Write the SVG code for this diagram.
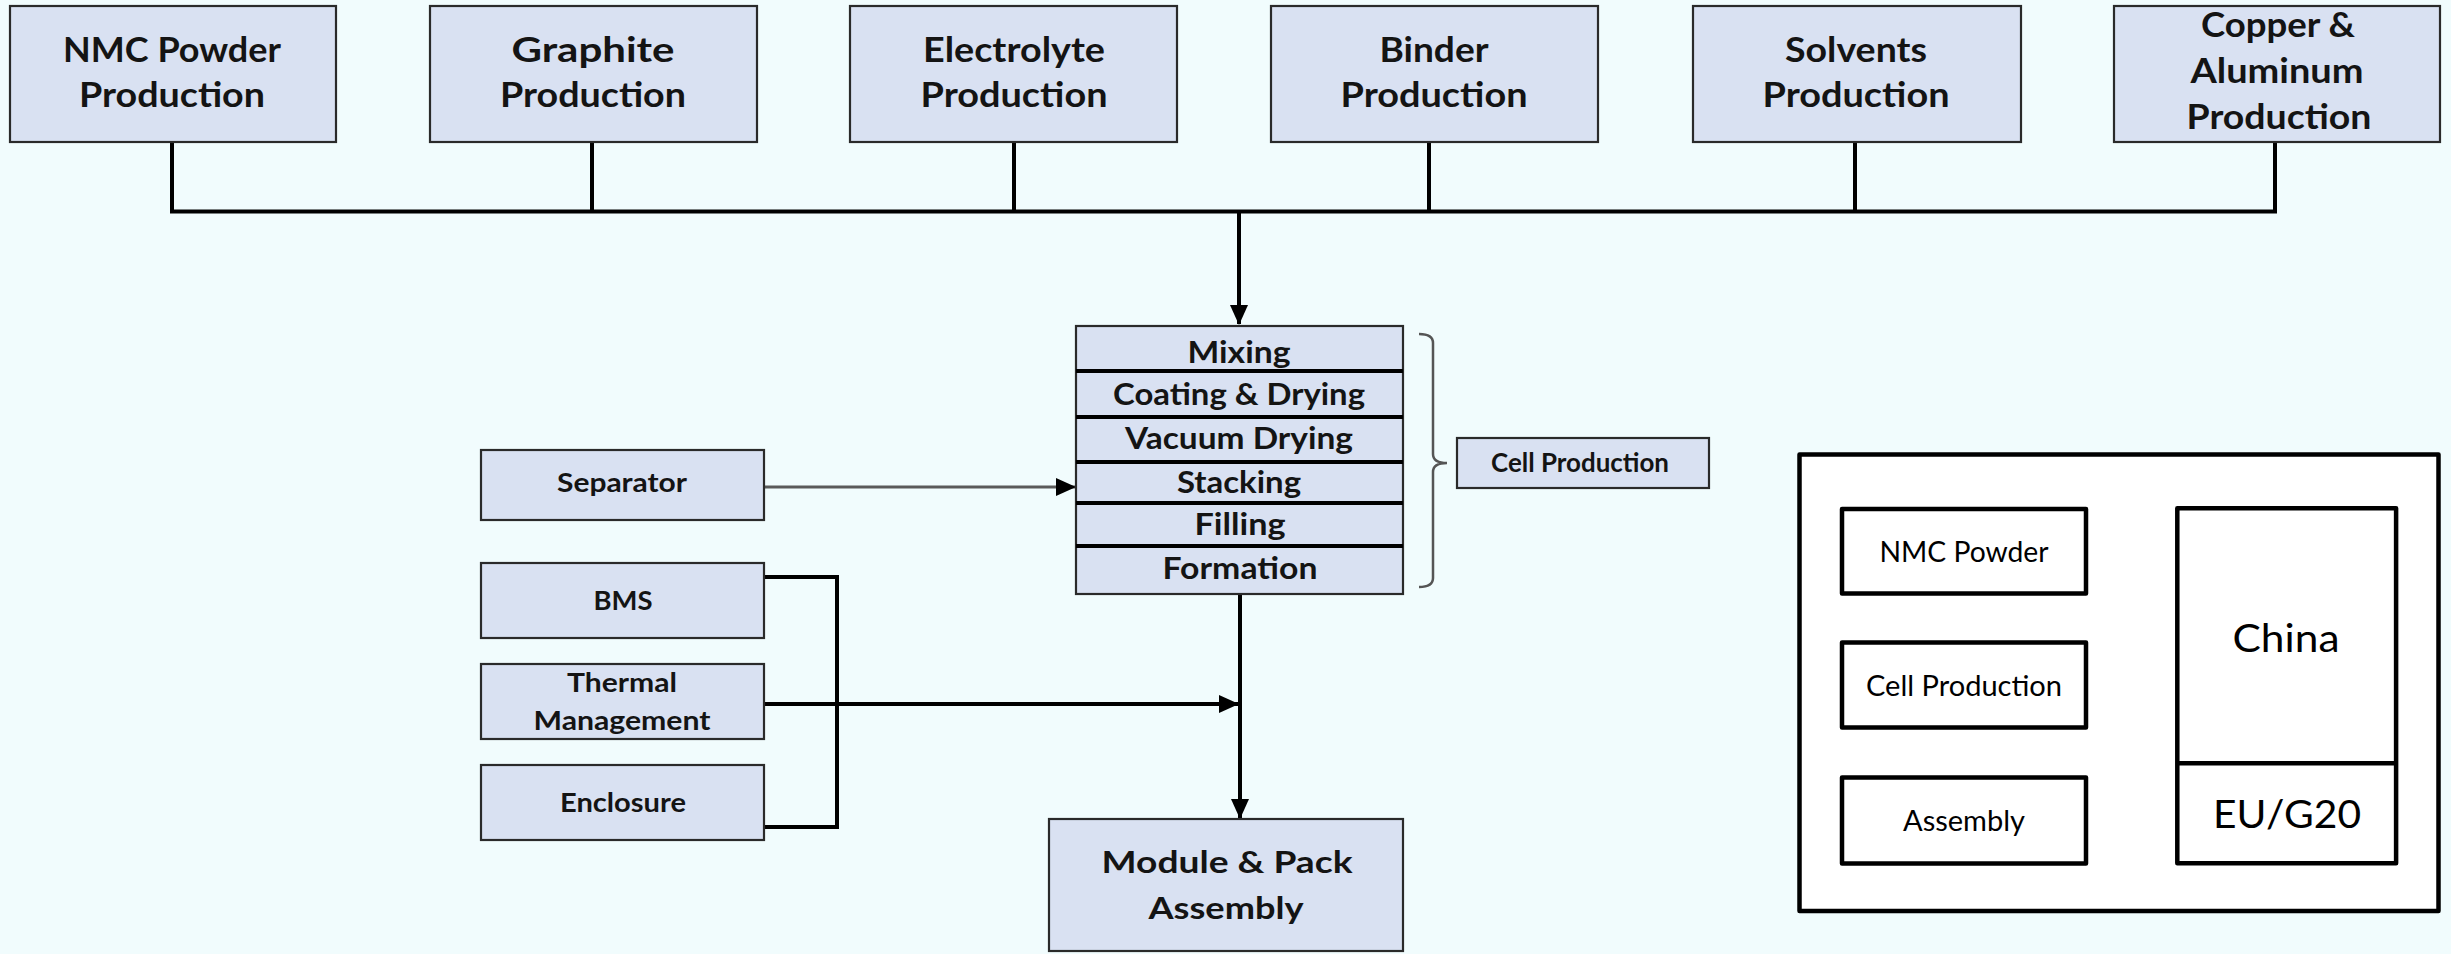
<svg xmlns="http://www.w3.org/2000/svg" width="2451" height="954" viewBox="0 0 2451 954">
<style>
.bg{fill:#F1FCFD}
.box{fill:#D9E1F2;stroke:#2a2a2a;stroke-width:2.2}
.wbox{fill:#FFFFFF;stroke:#000;stroke-width:4.5;stroke-linejoin:round}
.b{font-family:Lato,"Open Sans","Liberation Sans",sans-serif;font-weight:700;fill:#141414;text-anchor:middle}
.r{font-family:Lato,"Open Sans","Liberation Sans",sans-serif;font-weight:400;fill:#000;text-anchor:middle}
.t34{font-size:34px}
.t31{font-size:31px}
.t30{font-size:29.5px}
.t27{font-size:27px}
.t26{font-size:26px}
.t28{font-size:28px}
.t39{font-size:39px}
.ln{fill:none;stroke:#000;stroke-width:4;stroke-linejoin:miter}
.div{stroke:#000;stroke-width:4}
.gray{fill:none;stroke:#5a5a5a;stroke-width:3}
.brace{fill:none;stroke:#555;stroke-width:2.5}
</style>
<defs>
<marker id="ah" markerUnits="userSpaceOnUse" markerWidth="20" markerHeight="20" viewBox="0 0 20 20" refX="19" refY="10" orient="auto">
<path d="M0,1 L20,10 L0,19 Z" fill="#000"/>
</marker>
</defs>
<rect class="bg" x="0" y="0" width="2451" height="954"/>

<g id="connectors">
<path class="ln" d="M172,142 V211.5 M592,142 V211.5 M1014,142 V211.5 M1429,142 V211.5 M1855,142 V211.5 M2275,142 V211.5 M170,211.5 H2277"/>
<path class="ln" d="M1239,211 V324" marker-end="url(#ah)"/>
<path class="gray" d="M765,487 H1075" marker-end="url(#ah)"/>
<path class="ln" d="M764,577 H837 V827 H764"/>
<path class="ln" d="M764,704 H1238" marker-end="url(#ah)"/>
<path class="ln" d="M1240,594 V818" marker-end="url(#ah)"/>
<path class="brace" d="M1419,334 Q1433,334 1433,343 V454 Q1433,463 1447,463 Q1433,463 1433,472 V578 Q1433,587 1419,587"/>
</g>

<g id="nmc-powder-production">
<rect class="box" x="10" y="6" width="326" height="136"/>
<text class="b t34" x="172" y="62" textLength="218" lengthAdjust="spacingAndGlyphs">NMC Powder</text>
<text class="b t34" x="172" y="107" textLength="186" lengthAdjust="spacingAndGlyphs">Production</text>
</g>
<g id="graphite-production">
<rect class="box" x="430" y="6" width="327" height="136"/>
<text class="b t34" x="593" y="62" textLength="163" lengthAdjust="spacingAndGlyphs">Graphite</text>
<text class="b t34" x="593" y="107" textLength="186" lengthAdjust="spacingAndGlyphs">Production</text>
</g>
<g id="electrolyte-production">
<rect class="box" x="850" y="6" width="327" height="136"/>
<text class="b t34" x="1014" y="62" textLength="182" lengthAdjust="spacingAndGlyphs">Electrolyte</text>
<text class="b t34" x="1014" y="107" textLength="187" lengthAdjust="spacingAndGlyphs">Production</text>
</g>
<g id="binder-production">
<rect class="box" x="1271" y="6" width="327" height="136"/>
<text class="b t34" x="1434" y="62" textLength="109" lengthAdjust="spacingAndGlyphs">Binder</text>
<text class="b t34" x="1434" y="107" textLength="187" lengthAdjust="spacingAndGlyphs">Production</text>
</g>
<g id="solvents-production">
<rect class="box" x="1693" y="6" width="328" height="136"/>
<text class="b t34" x="1856" y="62" textLength="142" lengthAdjust="spacingAndGlyphs">Solvents</text>
<text class="b t34" x="1856" y="107" textLength="187" lengthAdjust="spacingAndGlyphs">Production</text>
</g>
<g id="copper-aluminum-production">
<rect class="box" x="2114" y="6" width="326" height="136"/>
<text class="b t34" x="2278" y="37" textLength="154" lengthAdjust="spacingAndGlyphs">Copper &amp;</text>
<text class="b t34" x="2277" y="83" textLength="173" lengthAdjust="spacingAndGlyphs">Aluminum</text>
<text class="b t34" x="2279" y="129" textLength="185" lengthAdjust="spacingAndGlyphs">Production</text>
</g>

<g id="cell-stack">
<rect class="box" x="1076" y="326" width="327" height="268"/>
<line class="div" x1="1076" y1="371" x2="1403" y2="371"/>
<line class="div" x1="1076" y1="417" x2="1403" y2="417"/>
<line class="div" x1="1076" y1="462" x2="1403" y2="462"/>
<line class="div" x1="1076" y1="503" x2="1403" y2="503"/>
<line class="div" x1="1076" y1="546" x2="1403" y2="546"/>
<text class="b t30" x="1239" y="363" textLength="103" lengthAdjust="spacingAndGlyphs">Mixing</text>
<text class="b t30" x="1239" y="405" textLength="252" lengthAdjust="spacingAndGlyphs">Coating &amp; Drying</text>
<text class="b t30" x="1239" y="449" textLength="228" lengthAdjust="spacingAndGlyphs">Vacuum Drying</text>
<text class="b t30" x="1239" y="493" textLength="124" lengthAdjust="spacingAndGlyphs">Stacking</text>
<text class="b t30" x="1240" y="535" textLength="91" lengthAdjust="spacingAndGlyphs">Filling</text>
<text class="b t30" x="1240" y="579" textLength="155" lengthAdjust="spacingAndGlyphs">Formation</text>
</g>

<g id="cell-production-label">
<rect class="box" x="1457" y="438" width="252" height="50"/>
<text class="b t27" x="1580" y="472" textLength="178" lengthAdjust="spacingAndGlyphs">Cell Production</text>
</g>

<g id="separator">
<rect class="box" x="481" y="450" width="283" height="70"/>
<text class="b t26" x="622" y="492" textLength="130" lengthAdjust="spacingAndGlyphs">Separator</text>
</g>
<g id="bms">
<rect class="box" x="481" y="563" width="283" height="75"/>
<text class="b t26" x="623" y="610" textLength="59" lengthAdjust="spacingAndGlyphs">BMS</text>
</g>
<g id="thermal-management">
<rect class="box" x="481" y="664" width="283" height="75"/>
<text class="b t26" x="622" y="692" textLength="110" lengthAdjust="spacingAndGlyphs">Thermal</text>
<text class="b t26" x="622" y="730" textLength="177" lengthAdjust="spacingAndGlyphs">Management</text>
</g>
<g id="enclosure">
<rect class="box" x="481" y="765" width="283" height="75"/>
<text class="b t26" x="623" y="812" textLength="126" lengthAdjust="spacingAndGlyphs">Enclosure</text>
</g>

<g id="module-pack-assembly">
<rect class="box" x="1049" y="819" width="354" height="132"/>
<text class="b t31" x="1227" y="873" textLength="251" lengthAdjust="spacingAndGlyphs">Module &amp; Pack</text>
<text class="b t31" x="1226" y="919" textLength="155" lengthAdjust="spacingAndGlyphs">Assembly</text>
</g>

<g id="legend">
<rect class="wbox" x="1799.5" y="454.5" width="639" height="456.5"/>
<g id="legend-nmc">
<rect class="wbox" x="1842" y="509" width="244" height="84.5"/>
<text class="r t28" x="1964" y="562" textLength="169" lengthAdjust="spacingAndGlyphs">NMC Powder</text>
</g>
<g id="legend-cell">
<rect class="wbox" x="1842" y="642.5" width="244" height="85"/>
<text class="r t28" x="1964" y="696" textLength="196" lengthAdjust="spacingAndGlyphs">Cell Production</text>
</g>
<g id="legend-assembly">
<rect class="wbox" x="1842" y="777.5" width="244" height="86"/>
<text class="r t28" x="1964" y="831" textLength="122" lengthAdjust="spacingAndGlyphs">Assembly</text>
</g>
<g id="legend-regions">
<rect class="wbox" x="2177.3" y="508.3" width="218.8" height="355"/>
<line x1="2177.3" y1="763.3" x2="2396.1" y2="763.3" stroke="#000" stroke-width="4.5"/>
<text class="r t39" x="2286" y="652" textLength="107" lengthAdjust="spacingAndGlyphs">China</text>
<text class="r t39" x="2287" y="828" textLength="148" lengthAdjust="spacingAndGlyphs">EU/G20</text>
</g>
</g>
</svg>
